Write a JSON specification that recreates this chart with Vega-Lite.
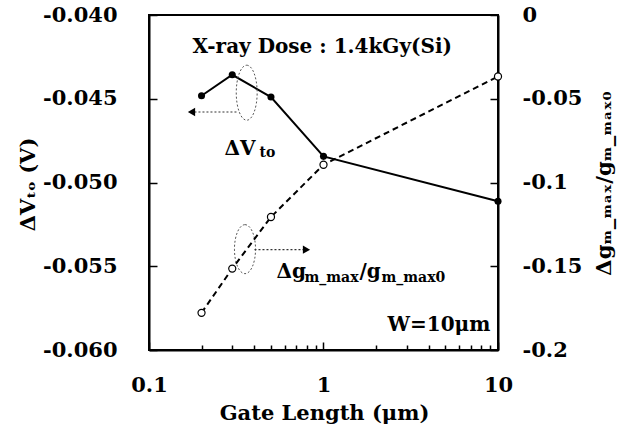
{
  "$schema": "https://vega.github.io/schema/vega-lite/v6.json",
  "width": 349,
  "height": 335,
  "autosize": "none",
  "padding": {"left": 149, "top": 15, "right": 143, "bottom": 88},
  "background": "white",
  "config": {
    "font": "DejaVu Serif",
    "view": {"stroke": "black", "strokeWidth": 2},
    "axis": {
      "grid": false,
      "domainColor": "black",
      "domainWidth": 2,
      "tickColor": "black",
      "tickWidth": 1.5,
      "labelFont": "DejaVu Serif",
      "labelFontWeight": "bold",
      "labelFontSize": 21,
      "labelColor": "black",
      "titleFont": "DejaVu Serif",
      "titleFontWeight": "bold",
      "titleFontSize": 21,
      "titleColor": "black"
    }
  },
  "datasets": {
    "dv": [
      {"L": 0.2, "v": -0.04482},
      {"L": 0.3, "v": -0.04357},
      {"L": 0.5, "v": -0.0449},
      {"L": 1, "v": -0.04844},
      {"L": 10, "v": -0.05112}
    ],
    "gm": [
      {"L": 0.2, "v": -0.1778},
      {"L": 0.3, "v": -0.1514},
      {"L": 0.5, "v": -0.1206},
      {"L": 1, "v": -0.0894},
      {"L": 10, "v": -0.0367}
    ],
    "ellipse1": [{"L": 0.363, "v": -0.04464}],
    "ellipse2": [{"L": 0.3549, "v": -0.05398}],
    "arrowL": [{"L": 0.3171, "L2": 0.18, "v": -0.04579}],
    "headL": [{"L": 0.1752, "v": -0.04579}],
    "arrowR": [{"L": 0.4022, "L2": 0.78, "v": -0.05401}],
    "headR": [{"L": 0.799, "v": -0.05401}],
    "bigText": [
      {"L": 0.1775, "v": -0.04225, "t": "X-ray Dose : 1.4kGy(Si)"},
      {"L": 0.2708, "v": -0.04834, "t": "ΔV"},
      {"L": 0.5379, "v": -0.05568, "t": "Δg"},
      {"L": 1.608, "v": -0.05568, "t": "/g"},
      {"L": 2.327, "v": -0.05884, "t": "W=10μm"}
    ],
    "smallText": [
      {"L": 0.4298, "v": -0.04846, "t": "to"},
      {"L": 0.778, "v": -0.05597, "t": "m_max"},
      {"L": 2.149, "v": -0.05597, "t": "m_max0"}
    ]
  },
  "encoding": {
    "x": {
      "field": "L",
      "type": "quantitative",
      "scale": {"type": "log", "domain": [0.1, 10]},
      "axis": {
        "title": "Gate Length (μm)",
        "values": [0.1, 0.2, 0.3, 0.4, 0.5, 0.6, 0.7, 0.8, 0.9, 1, 2, 3, 4, 5, 6, 7, 8, 9, 10],
        "labelExpr": "datum.value == 0.1 || datum.value == 1 || datum.value == 10 ? format(datum.value, '~g') : ''",
        "tickSize": {"condition": {"test": "datum.value == 0.1 || datum.value == 1 || datum.value == 10", "value": -8}, "value": -5},
        "labelPadding": 32,
        "labelFlush": false,
        "labelOverlap": false,
        "titleX": 175,
        "titleY": 63,
        "titleAlign": "center",
        "titleBaseline": "middle"
      }
    }
  },
  "layer": [
    {
      "encoding": {
        "y": {
          "field": "v",
          "type": "quantitative",
          "scale": {"domain": [-0.06, -0.04]},
          "axis": {
            "orient": "left",
            "title": "ΔVₜₒ (V)",
            "values": [-0.06, -0.055, -0.05, -0.045, -0.04],
            "labelExpr": "replace(format(datum.value, '.3f'), '−', '-')",
            "tickSize": -8,
            "labelPadding": 40,
            "titleAngle": 270,
            "titleX": -121,
            "titleY": 169,
            "titleAlign": "center",
            "titleBaseline": "middle"
          }
        }
      },
      "layer": [
        {"data": {"name": "dv"}, "mark": {"type": "line", "color": "black", "strokeWidth": 2}},
        {"data": {"name": "dv"}, "mark": {"type": "point", "shape": "circle", "filled": true, "color": "black", "size": 50, "opacity": 1}},
        {"data": {"name": "ellipse1"}, "mark": {"type": "point", "shape": "M 0 -1 A 0.38 1 0 1 1 0 1 A 0.38 1 0 1 1 0 -1 Z", "size": 3025, "filled": false, "stroke": "#555555", "strokeWidth": 1, "strokeDash": [2, 2], "opacity": 1}},
        {"data": {"name": "ellipse2"}, "mark": {"type": "point", "shape": "M 0 -1 A 0.43 1 0 1 1 0 1 A 0.43 1 0 1 1 0 -1 Z", "size": 2401, "filled": false, "stroke": "#555555", "strokeWidth": 1, "strokeDash": [2, 2], "opacity": 1}},
        {"data": {"name": "arrowL"}, "mark": {"type": "rule", "color": "#333333", "strokeWidth": 1.2, "strokeDash": [2, 2]}, "encoding": {"x2": {"field": "L2"}}},
        {"data": {"name": "headL"}, "mark": {"type": "point", "shape": "triangle-left", "filled": true, "color": "black", "size": 70, "opacity": 1}},
        {"data": {"name": "arrowR"}, "mark": {"type": "rule", "color": "#333333", "strokeWidth": 1.2, "strokeDash": [2, 2]}, "encoding": {"x2": {"field": "L2"}}},
        {"data": {"name": "headR"}, "mark": {"type": "point", "shape": "triangle-right", "filled": true, "color": "black", "size": 70, "opacity": 1}},
        {"data": {"name": "bigText"}, "mark": {"type": "text", "font": "DejaVu Serif", "fontWeight": "bold", "fontSize": 20, "align": "left", "baseline": "alphabetic", "color": "black"}, "encoding": {"text": {"field": "t"}}},
        {"data": {"name": "smallText"}, "mark": {"type": "text", "font": "DejaVu Serif", "fontWeight": "bold", "fontSize": 14, "align": "left", "baseline": "alphabetic", "color": "black"}, "encoding": {"text": {"field": "t"}}}
      ]
    },
    {
      "encoding": {
        "y": {
          "field": "v",
          "type": "quantitative",
          "scale": {"domain": [-0.2, 0]},
          "axis": {
            "orient": "right",
            "title": "Δgₘ_ₘₐₓ/gₘ_ₘₐₓ₀",
            "values": [-0.2, -0.15, -0.1, -0.05, 0],
            "labelExpr": "replace(format(datum.value, '~g'), '−', '-')",
            "tickSize": -8,
            "labelPadding": 32,
            "titleAngle": 270,
            "titleX": 106,
            "titleY": 168,
            "titleAlign": "center",
            "titleBaseline": "middle"
          }
        }
      },
      "layer": [
        {"data": {"name": "gm"}, "mark": {"type": "line", "color": "black", "strokeWidth": 2, "strokeDash": [6, 4]}},
        {"data": {"name": "gm"}, "mark": {"type": "point", "shape": "circle", "filled": true, "fill": "white", "stroke": "black", "strokeWidth": 1.2, "size": 50, "opacity": 1}}
      ]
    }
  ],
  "resolve": {"scale": {"y": "independent"}}
}
